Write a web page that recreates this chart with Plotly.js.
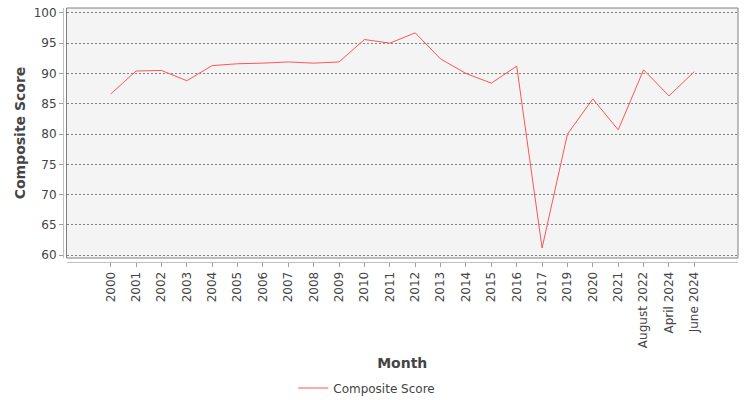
<!DOCTYPE html>
<html>
<head>
<meta charset="utf-8">
<script src="https://cdn.plot.ly/plotly-3.0.1.min.js"></script>
<style>
  html, body { margin: 0; padding: 0; background: #ffffff; }
  #chart { width: 750px; height: 400px; }
</style>
</head>
<body>
<div id="chart"></div>
<script>
// categories on the x axis
const months = [
    '2000', '2001', '2002', '2003', '2004', '2005', '2006', '2007', '2008',
    '2009', '2010', '2011', '2012', '2013', '2014', '2015', '2016', '2017',
    '2019', '2020', '2021', 'August 2022', 'April 2024', 'June 2024'
];

// composite score per month
const compositeScore = [
    86.6, 90.4, 90.5, 88.8, 91.3, 91.6, 91.7, 91.9, 91.7,
    91.9, 95.6, 95.0, 96.7, 92.4, 90.0, 88.4, 91.2, 61.2,
    80.0, 85.8, 80.7, 90.6, 86.3, 90.3
];

const yTicks = [60, 65, 70, 75, 80, 85, 90, 95, 100];

const textColor = '#444444';
const font = 'DejaVu Sans, sans-serif';

const traces = [
    {
        x: months,
        y: compositeScore,
        type: 'scatter',
        mode: 'lines',
        name: 'Composite Score',
        line: { color: '#ff5555', width: 1 },
        hoverinfo: 'x+y'
    }
];

const layout = {
    width: 750,
    height: 400,
    paper_bgcolor: '#ffffff',
    plot_bgcolor: '#f4f4f4',
    font: { family: font, size: 12, color: textColor },
    margin: { l: 63, r: 12, t: 8, b: 138 },
    showlegend: true,
    legend: {
        orientation: 'h',
        xref: 'container',
        yref: 'container',
        x: 0.489,
        xanchor: 'center',
        y: 0.03,
        yanchor: 'middle',
        font: { family: font, size: 12, color: textColor },
        bgcolor: 'rgba(0,0,0,0)'
    },
    xaxis: {
        type: 'category',
        domain: [0.0052, 1],
        anchor: 'free',
        position: 0,
        range: [-1.74, 24.72],
        tickvals: months,
        ticktext: months,
        tickangle: -90,
        ticks: 'outside',
        ticklen: 4,
        tickcolor: '#a0a0a0',
        showline: true,
        linecolor: '#c0c0c0',
        linewidth: 1,
        showgrid: false,
        zeroline: false,
        tickfont: { family: font, size: 12, color: textColor },
        title: {
            text: 'Month',
            standoff: 11,
            font: { family: font, size: 14, color: textColor, weight: 'bold' }
        }
    },
    yaxis: {
        domain: [0.0157, 1],
        anchor: 'free',
        position: 0,
        range: [59.55, 100.8],
        tickvals: yTicks,
        ticks: 'outside',
        ticklen: 4,
        tickcolor: '#a0a0a0',
        showline: true,
        linecolor: '#c0c0c0',
        linewidth: 1,
        showgrid: true,
        gridcolor: '#808080',
        gridwidth: 1,
        griddash: '2px,2px',
        zeroline: false,
        tickfont: { family: font, size: 12, color: textColor },
        title: {
            text: 'Composite Score',
            standoff: 3,
            font: { family: font, size: 14, color: textColor, weight: 'bold' }
        }
    },
    shapes: [
        {
            // plot outline
            type: 'rect',
            xref: 'paper',
            yref: 'paper',
            x0: 0.0052,
            x1: 1,
            y0: 0.0157,
            y1: 1,
            line: { color: '#808080', width: 1 },
            layer: 'above'
        }
    ]
};

const config = {
    responsive: false,
    displayModeBar: false
};

Plotly.newPlot('chart', traces, layout, config);
</script>
</body>
</html>
